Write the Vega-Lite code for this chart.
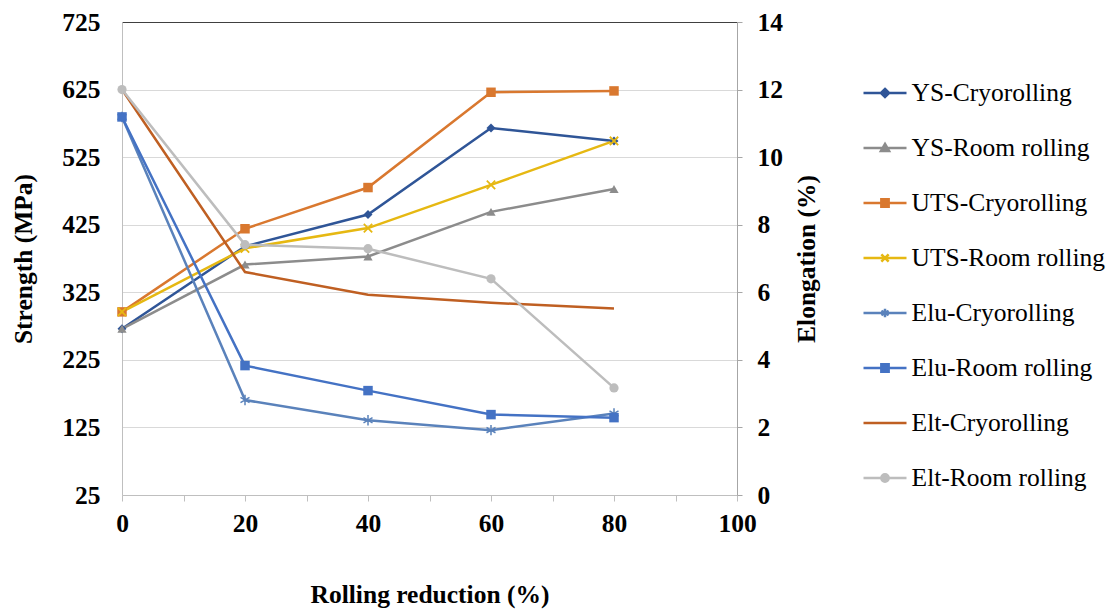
{
  "$schema": "https://vega.github.io/schema/vega-lite/v6.json",
  "width": 615,
  "height": 473,
  "autosize": {"type": "none"},
  "padding": {"left": 122, "top": 22, "right": 373, "bottom": 119},
  "background": "white",
  "config": {
    "view": {"stroke": null},
    "font": "Liberation Serif",
    "title": {"font": "Liberation Serif"},
    "axis": {
      "labelFont": "Liberation Serif",
      "titleFont": "Liberation Serif",
      "labelColor": "black",
      "titleColor": "black",
      "labelFontSize": 25.5,
      "labelFontWeight": "bold",
      "titleFontSize": 25.5,
      "titleFontWeight": "bold"
    },
    "legend": {"labelFont": "Liberation Serif"}
  },
  "data": {
    "values": [
      {"series": "YS-Cryorolling", "kind": "strength", "reduction": 0, "value": 271},
      {"series": "YS-Cryorolling", "kind": "strength", "reduction": 20, "value": 393},
      {"series": "YS-Cryorolling", "kind": "strength", "reduction": 40, "value": 440},
      {"series": "YS-Cryorolling", "kind": "strength", "reduction": 60, "value": 568},
      {"series": "YS-Cryorolling", "kind": "strength", "reduction": 80, "value": 549},
      {"series": "YS-Room rolling", "kind": "strength", "reduction": 0, "value": 271},
      {"series": "YS-Room rolling", "kind": "strength", "reduction": 20, "value": 366},
      {"series": "YS-Room rolling", "kind": "strength", "reduction": 40, "value": 378},
      {"series": "YS-Room rolling", "kind": "strength", "reduction": 60, "value": 444},
      {"series": "YS-Room rolling", "kind": "strength", "reduction": 80, "value": 478},
      {"series": "UTS-Cryorolling", "kind": "strength", "reduction": 0, "value": 296},
      {"series": "UTS-Cryorolling", "kind": "strength", "reduction": 20, "value": 419},
      {"series": "UTS-Cryorolling", "kind": "strength", "reduction": 40, "value": 480},
      {"series": "UTS-Cryorolling", "kind": "strength", "reduction": 60, "value": 621},
      {"series": "UTS-Cryorolling", "kind": "strength", "reduction": 80, "value": 623},
      {"series": "UTS-Room rolling", "kind": "strength", "reduction": 0, "value": 296},
      {"series": "UTS-Room rolling", "kind": "strength", "reduction": 20, "value": 390},
      {"series": "UTS-Room rolling", "kind": "strength", "reduction": 40, "value": 420},
      {"series": "UTS-Room rolling", "kind": "strength", "reduction": 60, "value": 484},
      {"series": "UTS-Room rolling", "kind": "strength", "reduction": 80, "value": 549},
      {"series": "Elu-Cryorolling", "kind": "elongation", "reduction": 0, "value": 11.19},
      {"series": "Elu-Cryorolling", "kind": "elongation", "reduction": 20, "value": 2.81},
      {"series": "Elu-Cryorolling", "kind": "elongation", "reduction": 40, "value": 2.21},
      {"series": "Elu-Cryorolling", "kind": "elongation", "reduction": 60, "value": 1.92},
      {"series": "Elu-Cryorolling", "kind": "elongation", "reduction": 80, "value": 2.41},
      {"series": "Elu-Room rolling", "kind": "elongation", "reduction": 0, "value": 11.19},
      {"series": "Elu-Room rolling", "kind": "elongation", "reduction": 20, "value": 3.83},
      {"series": "Elu-Room rolling", "kind": "elongation", "reduction": 40, "value": 3.09},
      {"series": "Elu-Room rolling", "kind": "elongation", "reduction": 60, "value": 2.38},
      {"series": "Elu-Room rolling", "kind": "elongation", "reduction": 80, "value": 2.29},
      {"series": "Elt-Cryorolling", "kind": "elongation", "reduction": 0, "value": 12.0},
      {"series": "Elt-Cryorolling", "kind": "elongation", "reduction": 20, "value": 6.6},
      {"series": "Elt-Cryorolling", "kind": "elongation", "reduction": 40, "value": 5.93},
      {"series": "Elt-Cryorolling", "kind": "elongation", "reduction": 60, "value": 5.69},
      {"series": "Elt-Cryorolling", "kind": "elongation", "reduction": 80, "value": 5.52},
      {"series": "Elt-Room rolling", "kind": "elongation", "reduction": 0, "value": 12.0},
      {"series": "Elt-Room rolling", "kind": "elongation", "reduction": 20, "value": 7.41},
      {"series": "Elt-Room rolling", "kind": "elongation", "reduction": 40, "value": 7.29},
      {"series": "Elt-Room rolling", "kind": "elongation", "reduction": 60, "value": 6.4},
      {"series": "Elt-Room rolling", "kind": "elongation", "reduction": 80, "value": 3.17}
    ]
  },
  "encoding": {
    "x": {
      "field": "reduction",
      "type": "quantitative",
      "scale": {"domain": [0, 100], "nice": false},
      "axis": {
        "title": "Rolling reduction (%)",
        "titleFont": "Liberation Serif",
        "values": [0, 10, 20, 30, 40, 50, 60, 70, 80, 90, 100],
        "labelExpr": "datum.value % 20 === 0 ? datum.label : ''",
        "grid": false,
        "domainColor": "#bfbfbf",
        "tickColor": "#bfbfbf",
        "tickSize": 6,
        "labelPadding": 10,
        "titlePadding": 46,
        "labelFlush": false
      }
    },
    "color": {"field": "series", "type": "nominal", "sort": null,
      "scale": {
        "domain": ["YS-Cryorolling", "YS-Room rolling", "UTS-Cryorolling", "UTS-Room rolling", "Elu-Cryorolling", "Elu-Room rolling", "Elt-Cryorolling", "Elt-Room rolling"],
        "range": ["#2f5597", "#8c8c8c", "#d9782f", "#e6b812", "#5a82bb", "#4472c4", "#bf5f22", "#bdbdbd"]
      },
      "legend": {
        "orient": "none", "legendX": 740, "legendY": 48, "title": null,
        "direction": "vertical", "padding": 0,
        "symbolSize": 1849, "symbolStrokeWidth": 2.5, "symbolType": "stroke",
        "labelFont": "Liberation Serif", "labelFontSize": 25.5, "labelColor": "black",
        "labelOffset": 3.6, "rowPadding": 18, "labelLimit": 400,
        "encode": {"symbols": {"update": {
          "fill": {"scale": "color", "field": "value"},
          "stroke": {"scale": "color", "field": "value"},
          "strokeWidth": {"value": 2.5},
          "opacity": {"value": 1},
          "shape": {"signal": "datum.value === 'YS-Cryorolling' ? 'M-1,0L1,0M0,-0.19L0.19,0L0,0.19L-0.19,0Z' : datum.value === 'YS-Room rolling' ? 'M-1,0L1,0M0,-0.19L0.19,0.14L-0.19,0.14Z' : (datum.value === 'UTS-Cryorolling' || datum.value === 'Elu-Room rolling') ? 'M-1,0L1,0M-0.17,-0.17H0.17V0.17H-0.17Z' : datum.value === 'UTS-Room rolling' ? 'M-1,0L1,0M-0.17,-0.17L0.17,0.17M-0.17,0.17L0.17,-0.17' : datum.value === 'Elu-Cryorolling' ? 'M-1,0L1,0M0,-0.2L0,0.2M-0.17,-0.1L0.17,0.1M-0.17,0.1L0.17,-0.1' : datum.value === 'Elt-Room rolling' ? 'M-1,0L1,0M-0.17,0A0.17,0.17,0,1,0,0.17,0A0.17,0.17,0,1,0,-0.17,0Z' : 'M-1,0L1,0'"}
        }}}
      }
    }
  },
  "layer": [
    {
      "transform": [{"filter": "datum.kind === 'strength'"}],
      "encoding": {
        "y": {
          "field": "value",
          "type": "quantitative",
          "scale": {"domain": [25, 725], "nice": false, "zero": false},
          "axis": {
            "title": "Strength (MPa)",
            "titleFont": "Liberation Serif",
            "orient": "left",
            "values": [25, 125, 225, 325, 425, 525, 625, 725],
            "grid": true,
            "gridColor": {"condition": {"test": "datum.value === 725", "value": "#404040"}, "value": "#d9d9d9"},
            "gridWidth": 1.2,
            "domainColor": "#bfbfbf",
            "ticks": false,
            "labelPadding": 22,
            "titlePadding": 25
          }
        }
      },
      "layer": [
        {"mark": {"type": "line", "strokeWidth": 2.5}},
        {
          "transform": [{"filter": "datum.series === 'YS-Cryorolling'"}],
          "mark": {"type": "point", "shape": "diamond", "filled": true, "size": 80, "strokeWidth": 1, "opacity": 1}
        },
        {
          "transform": [{"filter": "datum.series === 'YS-Room rolling'"}],
          "mark": {"type": "point", "shape": "triangle-up", "filled": true, "size": 85, "strokeWidth": 1, "opacity": 1}
        },
        {
          "transform": [{"filter": "datum.series === 'UTS-Cryorolling'"}],
          "mark": {"type": "point", "shape": "square", "filled": true, "size": 90, "strokeWidth": 1, "opacity": 1}
        },
        {
          "transform": [{"filter": "datum.series === 'UTS-Room rolling'"}],
          "mark": {"type": "point", "shape": "M-1,-1L1,1M-1,1L1,-1", "filled": false, "size": 70, "strokeWidth": 1.8, "opacity": 1}
        }
      ]
    },
    {
      "transform": [{"filter": "datum.kind === 'elongation'"}],
      "encoding": {
        "y": {
          "field": "value",
          "type": "quantitative",
          "scale": {"domain": [0, 14], "nice": false, "zero": true},
          "axis": {
            "title": "Elongation (%)",
            "titleFont": "Liberation Serif",
            "orient": "right",
            "values": [0, 2, 4, 6, 8, 10, 12, 14],
            "grid": false,
            "domainColor": "#a6a6a6",
            "tickColor": "#a6a6a6",
            "tickSize": 5,
            "labelPadding": 15,
            "titleAngle": -90,
            "titlePadding": 37
          }
        }
      },
      "layer": [
        {"mark": {"type": "line", "strokeWidth": 2.5}},
        {
          "transform": [{"filter": "datum.series === 'Elu-Cryorolling'"}],
          "mark": {"type": "point", "shape": "M0,-1.1L0,1.1M-0.95,-0.55L0.95,0.55M-0.95,0.55L0.95,-0.55", "filled": false, "size": 90, "strokeWidth": 1.5, "opacity": 1}
        },
        {
          "transform": [{"filter": "datum.series === 'Elu-Room rolling'"}],
          "mark": {"type": "point", "shape": "square", "filled": true, "size": 90, "strokeWidth": 1, "opacity": 1}
        },
        {
          "transform": [{"filter": "datum.series === 'Elt-Room rolling'"}],
          "mark": {"type": "point", "shape": "circle", "filled": true, "size": 85, "strokeWidth": 1, "opacity": 1}
        }
      ]
    }
  ],
  "resolve": {"scale": {"y": "independent"}}
}
